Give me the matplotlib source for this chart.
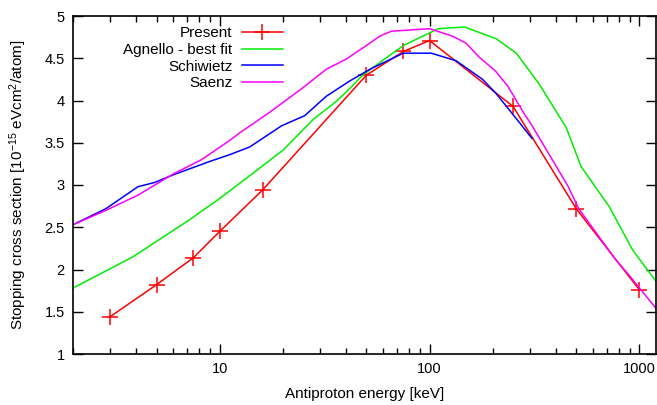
import matplotlib
matplotlib.use("Agg")
import matplotlib.pyplot as plt
from matplotlib.ticker import FixedLocator, FixedFormatter, LogLocator, NullFormatter, FormatStrFormatter

plt.rcParams['font.family'] = ['Liberation Sans', 'DejaVu Sans']
plt.rcParams['mathtext.default'] = 'regular'

# Present
present_E = [3, 5, 7.5, 10, 16, 50, 75, 100, 250, 500, 1000]
present_S = [1.44, 1.82, 2.14, 2.45, 2.94, 4.30, 4.58, 4.71, 3.93, 2.72, 1.76]

# Agnello - best fit
agnello_E = [2, 3.86, 7, 10, 15.5, 20, 28, 36, 42, 48, 58, 75, 110, 147, 208, 259, 334, 448, 527, 720, 929, 1200]
agnello_S = [1.78, 2.15, 2.57, 2.84, 3.20, 3.41, 3.78, 3.99, 4.15, 4.30, 4.45, 4.65, 4.85, 4.87, 4.73, 4.56, 4.19, 3.68, 3.22, 2.74, 2.23, 1.86]

# Schiwietz
schiwietz_E = [2, 2.87, 4.08, 4.9, 6.0, 9.0, 11.2, 13.9, 19.7, 25.4, 32.2, 41.6, 52, 75, 102, 134, 179, 208, 268, 308]
schiwietz_S = [2.53, 2.72, 2.98, 3.03, 3.12, 3.28, 3.36, 3.45, 3.70, 3.82, 4.05, 4.23, 4.37, 4.56, 4.56, 4.47, 4.25, 4.08, 3.74, 3.55]

# Saenz
saenz_E = [2, 2.87, 4.08, 6.0, 8.2, 11.2, 12.5, 17.3, 24.9, 32.2, 40.1, 50, 57.8, 65.8, 100, 129, 149, 173, 206, 236, 283, 305, 456, 514, 774, 895, 1200]
saenz_S = [2.53, 2.70, 2.88, 3.13, 3.30, 3.53, 3.62, 3.86, 4.15, 4.37, 4.49, 4.65, 4.76, 4.82, 4.85, 4.76, 4.68, 4.51, 4.35, 4.17, 3.84, 3.72, 2.99, 2.72, 2.11, 1.93, 1.54]

xticks = [10, 100, 1000]
xticklabels = ["10", "100", "1000"]
yticks = [1, 1.5, 2, 2.5, 3, 3.5, 4, 4.5, 5]

fig = plt.figure(figsize=(6.57, 4.05), dpi=100)
ax = fig.add_axes([73/657, (405-354)/405, (656-73)/657, (354-16)/405])

ax.plot(present_E, present_S, color='#ff0000', lw=1.1, marker='+', ms=11, mew=1.1, label='Present')
ax.plot(agnello_E, agnello_S, color='#00ee00', lw=1.1, label='Agnello - best fit')
ax.plot(schiwietz_E, schiwietz_S, color='#0000ff', lw=1.1, label='Schiwietz')
ax.plot(saenz_E, saenz_S, color='#ff00ff', lw=1.1, label='Saenz')

ax.set_xscale('log')
ax.set_xlim(2, 1200)
ax.set_ylim(1, 5)
ax.xaxis.set_major_locator(FixedLocator(xticks))
ax.xaxis.set_major_formatter(FixedFormatter(xticklabels))
ax.xaxis.set_minor_locator(LogLocator(base=10, subs=range(2, 10)))
ax.xaxis.set_minor_formatter(NullFormatter())
ax.yaxis.set_major_locator(FixedLocator(yticks))
ax.yaxis.set_major_formatter(FormatStrFormatter('%g'))

ax.tick_params(which='both', direction='in', top=True, right=True, labelsize=10.5, width=1)
ax.tick_params(which='major', length=7, pad=6)
ax.tick_params(which='minor', length=4)
for s in ax.spines.values():
    s.set_linewidth(1.2)

ax.set_xlabel('Antiproton energy [keV]', fontsize=11, labelpad=8)
ax.set_ylabel('Stopping cross section [10$^{-15}$ eVcm$^2$/atom]', fontsize=11, labelpad=11)

leg = ax.legend(loc='upper right', bbox_to_anchor=((283-73)/583, 0.969), frameon=False,
                markerfirst=False, fontsize=11, handlelength=2.7, handletextpad=0.6,
                labelspacing=0.17, borderpad=0, borderaxespad=0)

fig.savefig('out.png', dpi=100)
